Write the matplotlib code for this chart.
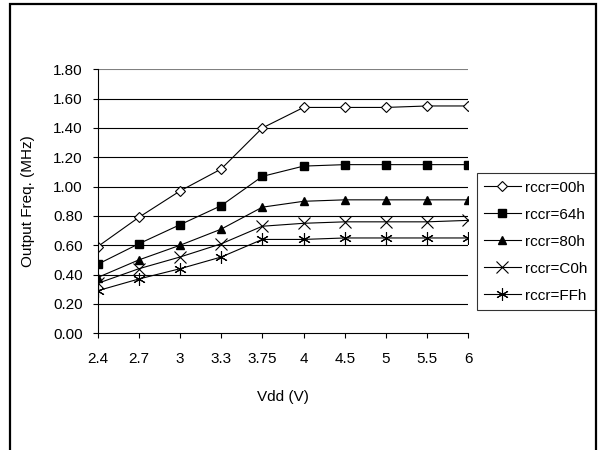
import numpy as np
import matplotlib.pyplot as plt
from matplotlib.patches import Rectangle

plt.rcParams['font.family'] = ['Liberation Sans', 'DejaVu Sans']

vdd = ['2.4', '2.7', '3', '3.3', '3.75', '4', '4.5', '5', '5.5', '6']
f_00h = [0.59, 0.79, 0.97, 1.12, 1.40, 1.54, 1.54, 1.54, 1.55, 1.55]
f_64h = [0.47, 0.61, 0.74, 0.87, 1.07, 1.14, 1.15, 1.15, 1.15, 1.15]
f_80h = [0.38, 0.50, 0.60, 0.71, 0.86, 0.90, 0.91, 0.91, 0.91, 0.91]
f_c0h = [0.34, 0.44, 0.52, 0.61, 0.73, 0.75, 0.76, 0.76, 0.76, 0.77]
f_ffh = [0.29, 0.37, 0.44, 0.52, 0.64, 0.64, 0.65, 0.65, 0.65, 0.65]
yticks = [0.0, 0.2, 0.4, 0.6, 0.8, 1.0, 1.2, 1.4, 1.6, 1.8]

fs = 11
fig = plt.figure(figsize=(6.01, 4.5), dpi=100)
ax = fig.add_axes([97.5 / 601, 116.7 / 450, 370.9 / 601, 264.0 / 450])

# outer frame of the chart object
fig.patches.append(Rectangle((10.5 / 601, -0.1), 585.5 / 601, 1.1 - 4.5 / 450,
                             transform=fig.transFigure, fill=False,
                             edgecolor='black', linewidth=1.6))

x = np.arange(len(vdd))
for yv in yticks[1:]:
    ax.axhline(yv, color='#808080' if yv == 1.8 else 'black', lw=0.8, zorder=1)

ax.plot(x, f_00h, color='black', lw=0.8, marker='D', ms=5, mfc='white',
        mec='black', mew=0.8, label='rccr=00h', zorder=3)
ax.plot(x, f_64h, color='black', lw=0.8, marker='s', ms=5.5, mfc='black',
        mec='black', label='rccr=64h', zorder=3)
ax.plot(x, f_80h, color='black', lw=0.8, marker='^', ms=6, mfc='black',
        mec='black', label='rccr=80h', zorder=3)
ax.plot(x, f_c0h, color='black', lw=0.8, marker='x', ms=8, mew=0.8,
        mec='black', label='rccr=C0h', zorder=3)
ax.plot(x, f_ffh, color='black', lw=0.8, marker=(6, 2, 0), ms=9, mew=0.8,
        mec='black', label='rccr=FFh', zorder=3)

ax.set_xlim(0, len(vdd) - 1)
ax.set_ylim(0, 1.8)
ax.set_xticks(x)
ax.set_xticklabels(vdd)
ax.set_yticks(yticks)
ax.set_yticklabels(['%.2f' % v for v in yticks])
ax.tick_params(axis='both', direction='out', length=3.5, width=0.8,
               labelsize=fs, colors='black')
ax.tick_params(axis='x', pad=10)
ax.tick_params(axis='y', pad=7)
for s in ['top', 'right']:
    ax.spines[s].set_visible(False)
for s in ['left', 'bottom']:
    ax.spines[s].set_linewidth(0.8)
    ax.spines[s].set_zorder(4)

ax.set_xlabel('Vdd (V)', fontsize=fs, labelpad=17)
ax.set_ylabel('Output Freq. (MHz)', fontsize=fs, labelpad=13)

leg = ax.legend(loc='upper left', bbox_to_anchor=(476.5 / 601, 1 - 173 / 450),
                bbox_transform=fig.transFigure, frameon=True, fancybox=False,
                fontsize=fs, handlelength=2.4, handletextpad=0.3,
                labelspacing=0.85, borderpad=0.5, borderaxespad=0)
leg.get_frame().set_edgecolor('black')
leg.get_frame().set_linewidth(0.8)

fig.savefig('out.png', dpi=100)
